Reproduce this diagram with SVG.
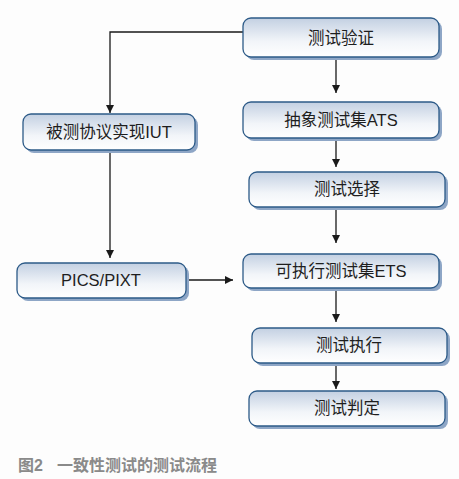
<svg xmlns="http://www.w3.org/2000/svg" width="459" height="479" viewBox="0 0 459 479">
<style>
.box{fill:url(#g);stroke:#2d5b88;stroke-width:1.3}
.sh{fill:#8ea6c6}
.t{font-family:"Liberation Sans","Noto Sans CJK SC",sans-serif;font-size:16.5px;fill:#1e1e1e;text-anchor:middle}
.c{stroke:#1a1a1a;stroke-width:1.3;fill:none}
.cap{font-family:"Liberation Sans","Noto Sans CJK SC",sans-serif;font-size:16px;font-weight:bold;fill:#8a8a8a}
</style>
<defs>
<linearGradient id="g" x1="0" y1="0" x2="0" y2="1">
<stop offset="0" stop-color="#c3d0e2"/>
<stop offset="0.6" stop-color="#f2f5f9"/>
<stop offset="1" stop-color="#ffffff"/>
</linearGradient>
<marker id="a" viewBox="0 0 10 10" refX="10" refY="5" markerWidth="8" markerHeight="8" markerUnits="userSpaceOnUse" orient="auto">
<path d="M0,0L10,5L0,10z" fill="#1a1a1a"/>
</marker>
</defs>
<rect width="459" height="479" fill="#fdfdfd"/>
<g id="connectors">
<path class="c" d="M243,32H110V113" marker-end="url(#a)"/>
<path class="c" d="M336,58V93" marker-end="url(#a)"/>
<path class="c" d="M336,139V167" marker-end="url(#a)"/>
<path class="c" d="M336,208V243" marker-end="url(#a)"/>
<path class="c" d="M110,151V258" marker-end="url(#a)"/>
<path class="c" d="M187,280H233" marker-end="url(#a)"/>
<path class="c" d="M336,289V322" marker-end="url(#a)"/>
<path class="c" d="M336,364V389" marker-end="url(#a)"/>
</g>
<g id="n1"><rect class="sh" x="246" y="21" width="196" height="39" rx="8"/><rect class="box" x="243" y="18" width="196" height="39" rx="8"/><text class="t" x="341" y="44">测试验证</text></g>
<g id="n2"><rect class="sh" x="246" y="105" width="196" height="36" rx="8"/><rect class="box" x="243" y="102" width="196" height="36" rx="8"/><text class="t" x="341" y="126">抽象测试集ATS</text></g>
<g id="n3"><rect class="sh" x="26" y="117" width="172" height="36" rx="8"/><rect class="box" x="23" y="114" width="172" height="36" rx="8"/><text class="t" x="109" y="138">被测协议实现IUT</text></g>
<g id="n4"><rect class="sh" x="252" y="175" width="196" height="35" rx="8"/><rect class="box" x="249" y="172" width="196" height="35" rx="8"/><text class="t" x="347" y="195">测试选择</text></g>
<g id="n5"><rect class="sh" x="246" y="257" width="196" height="34" rx="8"/><rect class="box" x="243" y="254" width="196" height="34" rx="8"/><text class="t" x="341" y="277">可执行测试集ETS</text></g>
<g id="n6"><rect class="sh" x="20" y="266" width="169" height="35" rx="8"/><rect class="box" x="17" y="263" width="169" height="35" rx="8"/><text class="t" x="101" y="286">PICS/PIXT</text></g>
<g id="n7"><rect class="sh" x="255" y="331" width="195" height="35" rx="8"/><rect class="box" x="252" y="328" width="195" height="35" rx="8"/><text class="t" x="349" y="351">测试执行</text></g>
<g id="n8"><rect class="sh" x="252" y="394" width="196" height="35" rx="8"/><rect class="box" x="249" y="391" width="196" height="35" rx="8"/><text class="t" x="347" y="414">测试判定</text></g>
<text class="cap" y="471"><tspan x="18">图2</tspan><tspan x="57">一致性测试的测试流程</tspan></text>
</svg>
